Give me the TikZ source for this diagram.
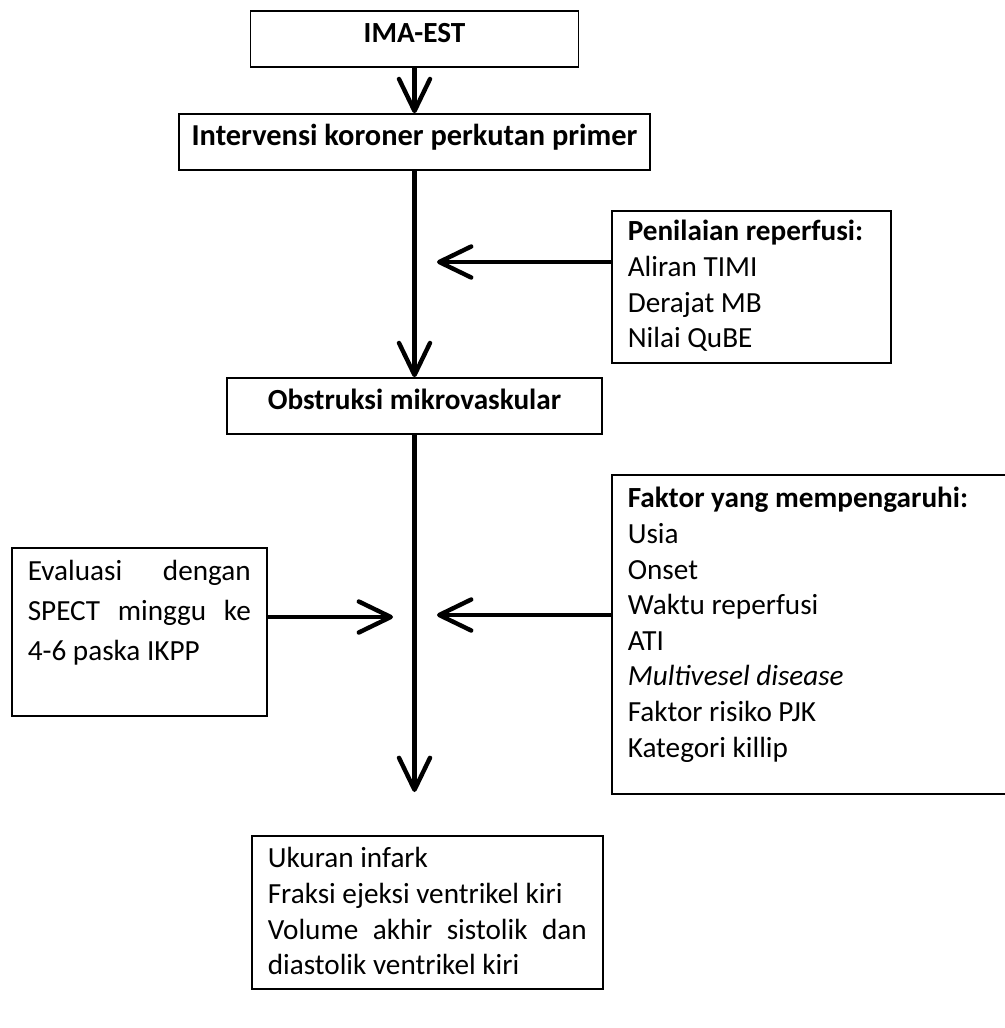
\documentclass[tikz,border=0pt]{standalone}
\usepackage{fontspec}
\setmainfont{Carlito}
\usetikzlibrary{arrows.meta}
\newcommand{\boxlines}[3]{\parbox[c][#2][t]{#1}{#3}}

\begin{document}
\begin{tikzpicture}[
	x=0.5pt, y=-0.5pt,
	font=\fontsize{14.6}{17.8}\selectfont,
	h/.style = {rectangle, draw, line width=0.8pt, font=\fontsize{14.6}{17.8}\selectfont\bfseries, minimum height=28pt, text height=9.4pt, text depth=5.5pt, inner sep=0pt},
	t/.style = {rectangle, draw, line width=0.8pt, inner sep=0pt, inner xsep=8pt, anchor=north west},
	r/.style = {-{Straight Barb[length=16pt, width=15.5pt, round]}, line width=2.2pt}
	]
	\useasboundingbox (0, 0) rectangle (1005, 1028);

	%Nodes
	\node[h, minimum width=164pt]	(ima)	at (414.5, 39)	{IMA-EST};
	\node[h, minimum width=235.5pt]	(pci)	at (414.5, 142)	{\fontsize{15.2}{17.8}\selectfont Intervensi koroner perkutan primer};
	\node[h, minimum width=187.5pt]	(omv)	at (414.5, 406)	{Obstruksi mikrovaskular};
	\node[t]	(pen)	at (611, 210)	{\boxlines{123.5pt}{76pt}{\rule{0pt}{15pt}\textbf{Penilaian reperfusi:}\\Aliran TIMI\\Derajat MB\\Nilai QuBE}};
	\node[t]	(spect)	at (11, 547)	{\boxlines{111.5pt}{84pt}{\rule{0pt}{16.5pt}Evaluasi\hfill dengan\\[2pt] SPECT\hfill minggu\hfill ke\\[2pt] 4-6 paska IKPP}};
	\node[t]	(fak)	at (611, 474)	{\boxlines{194pt}{159.5pt}{\rule{0pt}{16.5pt}\textbf{Faktor yang mempengaruhi:}\\Usia\\Onset\\Waktu reperfusi\\ATI\\\textit{Multivesel disease}\\Faktor risiko PJK\\Kategori killip}};
	\node[t]	(out)	at (251, 835)	{\boxlines{159.5pt}{76.5pt}{\rule{0pt}{16pt}Ukuran infark\\Fraksi ejeksi ventrikel kiri\\Volume\hfill akhir\hfill sistolik\hfill dan\\diastolik ventrikel kiri}};

	\coordinate	(pin)	at (437, 262);
	\coordinate	(sin)	at (393, 617);
	\coordinate	(fin)	at (437, 615);

	%Lines
	\draw[r]	(ima.south)	--	(pci.north);
	\draw[r]	(pci.south)	--	(omv.north);
	\draw[r]	(pen.west |- pin)	--	(pin);
	\draw[r]	(spect.east |- sin)	--	(sin);
	\draw[r]	(fak.west |- fin)	--	(fin);
	\draw[r, shorten >=21.5pt]	(omv.south)	--	(omv.south |- out.north);
\end{tikzpicture}
\end{document}
